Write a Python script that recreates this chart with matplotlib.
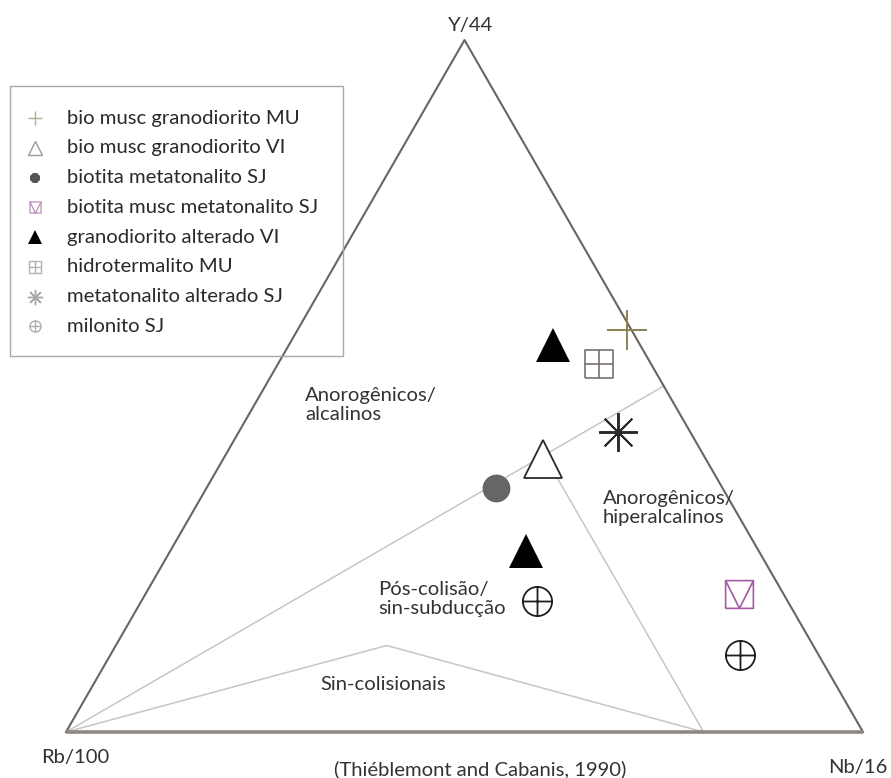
import numpy as np
import matplotlib
matplotlib.use("Agg")
import matplotlib.pyplot as plt
from matplotlib.path import Path
from matplotlib.patches import Rectangle
from matplotlib.lines import Line2D

plt.rcParams['font.family'] = ['Lato', 'DejaVu Sans']

# ---------------- data (Rb/100, Nb/16, Y/44 in %) ----------------
series_labels = ["bio musc granodiorito MU", "bio musc granodiorito VI",
                 "biotita metatonalito SJ", "biotita musc metatonalito SJ",
                 "granodiorito alterado VI", "hidrotermalito MU",
                 "metatonalito alterado SJ", "milonito SJ"]
point_series = [0, 1, 2, 3, 4, 4, 5, 6, 7, 7]
rb_pct = [0.6, 20.5, 28.4, 5.5, 11.0, 29.2, 6.5, 9.0, 31.5, 9.9]
nb_pct = [41.3, 40.1, 36.3, 74.5, 33.1, 44.6, 40.3, 47.6, 49.6, 79.0]
y_pct = [58.1, 39.4, 35.3, 20.0, 55.9, 26.2, 53.2, 43.4, 18.9, 11.1]

# field boundaries (Thiéblemont & Cabanis, 1990)
line1 = [[100, 0, 0], [0, 50, 50]]          # Rb - right edge
line2 = [[20, 40, 40], [20, 80, 0]]          # junction - base
line3 = [[100, 0, 0], [53.5, 34, 12.5], [20, 80, 0]]  # Sin-colisionais field
corners = [[100, 0, 0], [0, 100, 0], [0, 0, 100]]

field_labels = ["Anorogênicos/\nalcalinos", "Anorogênicos/\nhiperalcalinos",
                "Pós-colisão/\nsin-subducção", "Sin-colisionais"]
apex_labels = ["Rb/100", "Nb/16", "Y/44"]
source_label = "(Thiéblemont and Cabanis, 1990)"


def tern(pts):
    a = np.asarray(pts, dtype=float)
    a = a / a.sum(axis=1, keepdims=True)
    nb, y = a[:, 1], a[:, 2]
    return nb + y / 2.0, y * np.sqrt(3) / 2.0


W, H = 891, 778
fig = plt.figure(figsize=(W / 100, H / 100), dpi=100)
ax = fig.add_axes([0, 0, 1, 1])
sx, sy = 797.0, 799.0
ox, oy = 66.0, 732.0
ax.set_xlim(-ox / sx, (W - ox) / sx)
ax.set_ylim(-(H - oy) / sy, oy / sy)
ax.axis('off')


def fp(px, py):
    return px / W, 1 - py / H


# inner boundaries
for ln in (line1, line2, line3):
    x, y = tern(ln)
    ax.plot(x, y, color='#c6c6c6', lw=1.1, zorder=1)

# outer triangle
cx, cy = tern(corners)
ax.plot([cx[0], cx[2], cx[1]], [cy[0], cy[2], cy[1]], color='#6c6460', lw=1.5, zorder=2)
ax.plot([cx[0], cx[1]], [cy[0], cy[1]], color='#8e8884', lw=2.6, zorder=2,
        solid_capstyle='butt')

# custom markers
sq = [(-1, -1), (1, -1), (1, 1), (-1, 1), (-1, -1)]
sq_codes = [Path.MOVETO] + [Path.LINETO] * 4
square_cross = Path(sq + [(0, -1), (0, 1), (-1, 0), (1, 0)],
                    sq_codes + [Path.MOVETO, Path.LINETO, Path.MOVETO, Path.LINETO])
square_vtri = Path(sq + [(-1, 1), (0, -1), (1, 1)],
                   sq_codes + [Path.MOVETO, Path.LINETO, Path.LINETO])
circ = Path.unit_circle()
cross = Path([(0, -1), (0, 1), (-1, 0), (1, 0)],
             [Path.MOVETO, Path.LINETO, Path.MOVETO, Path.LINETO])
circle_plus = Path.make_compound_path(circ, cross)

styles = [
    dict(marker='+', color='#8a8250', ms=29, mew=1.4, mfc='none'),
    dict(marker='^', color='#2a2a2a', ms=27, mew=1.3, mfc='white'),
    dict(marker='o', color='#666666', ms=20, mew=0, mfc='#666666'),
    dict(marker=square_vtri, color='#a45aa4', ms=20, mew=1.2, mfc='none'),
    dict(marker='^', color='black', ms=25, mew=0, mfc='black'),
    dict(marker=square_cross, color='#7a7070', ms=20, mew=1.2, mfc='none'),
    dict(marker=(8, 2, 0), color='#2a2a2a', ms=28, mew=1.4, mfc='none'),
    dict(marker=circle_plus, color='#1e1e1e', ms=21, mew=1.3, mfc='none'),
]

px_, py_ = tern(np.column_stack([rb_pct, nb_pct, y_pct]))
for k in range(len(series_labels)):
    idx = [i for i, s in enumerate(point_series) if s == k]
    st = styles[k]
    ax.plot(px_[idx], py_[idx], ls='none', marker=st['marker'], color=st['color'],
            ms=st['ms'], mew=st['mew'], mfc=st['mfc'], zorder=5)

# text labels
tc = '#333333'
fs = 14.6
fig.text(*fp(471, 25), apex_labels[2], ha='center', va='center', fontsize=fs, color=tc)
fig.text(*fp(75, 758), apex_labels[0], ha='center', va='center', fontsize=fs, color=tc)
fig.text(*fp(858, 767), apex_labels[1], ha='center', va='center', fontsize=fs, color=tc)
fig.text(*fp(480, 769), source_label, ha='center', va='center', fontsize=fs, color=tc)
fig.text(*fp(305, 405), field_labels[0], ha='left', va='center', fontsize=fs, color=tc, linespacing=1.1)
fig.text(*fp(603, 508), field_labels[1], ha='left', va='center', fontsize=fs, color=tc, linespacing=1.1)
fig.text(*fp(378, 599), field_labels[2], ha='left', va='center', fontsize=fs, color=tc, linespacing=1.1)
fig.text(*fp(320, 685), field_labels[3], ha='left', va='center', fontsize=fs, color=tc)

# legend (manual box)
x0, y0, x1, y1 = 10, 86, 343, 356
fig.patches.append(Rectangle(fp(x0, y1), (x1 - x0) / W, (y1 - y0) / H,
                             transform=fig.transFigure, fill=False,
                             edgecolor='#a8a8a8', lw=1.0))
leg_styles = [
    dict(marker='+', color='#b5ad95', ms=10, mew=1.0, mfc='none'),
    dict(marker='^', color='#9a9a9a', ms=10, mew=1.0, mfc='white'),
    dict(marker='8', color='#555555', ms=8, mew=0, mfc='#555555'),
    dict(marker=square_vtri, color='#c09ac0', ms=8, mew=1.0, mfc='none'),
    dict(marker='^', color='black', ms=10, mew=0, mfc='black'),
    dict(marker=square_cross, color='#b8b0b0', ms=8, mew=1.0, mfc='none'),
    dict(marker=(8, 2, 0), color='#a8a8a8', ms=11, mew=1.0, mfc='none'),
    dict(marker=circle_plus, color='#b0b0b0', ms=8, mew=1.0, mfc='none'),
]
for k, lab in enumerate(series_labels):
    yy = 118.3 + k * 29.7
    st = leg_styles[k]
    fig.add_artist(Line2D([35 / W], [1 - yy / H], transform=fig.transFigure, ls='none',
                          marker=st['marker'], color=st['color'], ms=st['ms'],
                          mew=st['mew'], mfc=st['mfc']))
    fig.text(66.7 / W, 1 - yy / H, lab, ha='left', va='center', fontsize=fs, color='#2a2a2a')

fig.savefig('out.png', dpi=100)
